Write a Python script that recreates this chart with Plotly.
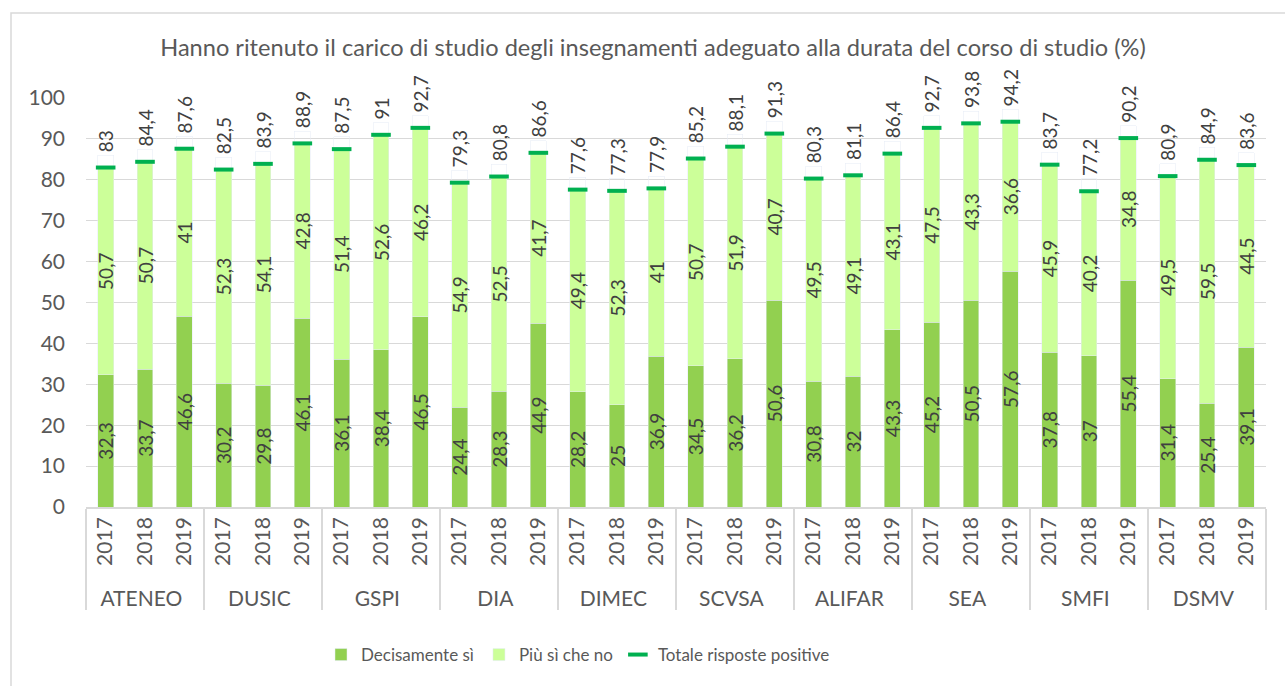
import plotly.graph_objects as go

groups = ["ATENEO", "DUSIC", "GSPI", "DIA", "DIMEC", "SCVSA", "ALIFAR", "SEA", "SMFI", "DSMV"]
years = ["2017", "2018", "2019"]

decisamente = [32.3, 33.7, 46.6, 30.2, 29.8, 46.1, 36.1, 38.4, 46.5, 24.4, 28.3, 44.9,
               28.2, 25, 36.9, 34.5, 36.2, 50.6, 30.8, 32, 43.3, 45.2, 50.5, 57.6,
               37.8, 37, 55.4, 31.4, 25.4, 39.1]
piu_si = [50.7, 50.7, 41, 52.3, 54.1, 42.8, 51.4, 52.6, 46.2, 54.9, 52.5, 41.7,
          49.4, 52.3, 41, 50.7, 51.9, 40.7, 49.5, 49.1, 43.1, 47.5, 43.3, 36.6,
          45.9, 40.2, 34.8, 49.5, 59.5, 44.5]
totale = [83, 84.4, 87.6, 82.5, 83.9, 88.9, 87.5, 91, 92.7, 79.3, 80.8, 86.6,
          77.6, 77.3, 77.9, 85.2, 88.1, 91.3, 80.3, 81.1, 86.4, 92.7, 93.8, 94.2,
          83.7, 77.2, 90.2, 80.9, 84.9, 83.6]

x_outer = [g for g in groups for _ in years]
x_inner = [y for _ in groups for y in years]
x = [x_outer, x_inner]

def fmt(v):
    return f"{v:g}".replace(".", ",")

FONT = "Lato"
TXT = "#595959"
LBL = "#404040"

fig = go.Figure()
fig.add_trace(go.Bar(
    x=x, y=decisamente, name="Decisamente sì", marker_color="#92D050",
    text=[fmt(v) for v in decisamente], textposition="inside", insidetextanchor="middle",
    textangle=-90, constraintext="none", textfont=dict(family=FONT, size=19, color=LBL),
))
fig.add_trace(go.Bar(
    x=x, y=piu_si, name="Più sì che no", marker_color="#CCFF99",
    text=[fmt(v) for v in piu_si], textposition="inside", insidetextanchor="middle",
    textangle=-90, constraintext="none", textfont=dict(family=FONT, size=19, color=LBL),
))
# invisible bars carrying the total labels above the marker
fig.add_trace(go.Bar(
    x=x, y=[3] * len(totale), base=totale, showlegend=False, hoverinfo="skip",
    marker=dict(color="rgba(0,0,0,0)"),
    text=[fmt(v) for v in totale], textposition="outside", textangle=-90,
    constraintext="none", cliponaxis=False, textfont=dict(family=FONT, size=19, color=LBL),
))
fig.add_trace(go.Scatter(
    x=x, y=totale, name="Totale risposte positive", mode="markers",
    marker=dict(symbol="line-ew", size=14, color="#00B050",
                line=dict(color="#00B050", width=4)),
    cliponaxis=False,
))

fig.update_layout(
    width=1285, height=686,
    barmode="stack", bargap=0.6,
    plot_bgcolor="white", paper_bgcolor="white",
    margin=dict(l=86, r=19, t=98, b=179, autoexpand=False),
    font=dict(family=FONT, color=TXT, size=18),
    title=dict(text="Hanno ritenuto il carico di studio degli insegnamenti adeguato alla durata del corso di studio (%)",
               x=(653 / 1285), xanchor="center", y=1 - 48 / 686, yanchor="middle",
               font=dict(family=FONT, size=23.6, color=TXT)),
    legend=dict(orientation="h", x=(578 - 86) / 1180, xanchor="center",
                y=(507 - 655) / 409, yanchor="middle",
                font=dict(family=FONT, size=17, color=TXT), traceorder="normal",
                itemwidth=30),
    showlegend=True,
)
fig.update_yaxes(range=[0, 100], dtick=10, showgrid=True, gridcolor="#D9D9D9", gridwidth=1,
                 zeroline=False, showline=False, tickfont=dict(size=21, color=TXT), ticks="",
                 ticklabelstandoff=20, automargin=False)
fig.update_xaxes(type="multicategory", range=[-0.5, 29.5], tickangle=-90, showline=True,
                 linecolor="#D9D9D9", linewidth=1.5, showdividers=True,
                 dividercolor="#D9D9D9", dividerwidth=1.5,
                 tickfont=dict(size=21, color=TXT), ticks="", automargin=False)

fig.add_shape(type="rect", xref="paper", yref="paper",
              x0=(11 - 86) / 1180, x1=(1300 - 86) / 1180,
              y0=(507 - 700) / 409, y1=(507 - 13) / 409,
              line=dict(color="#D9D9D9", width=1.5), fillcolor="rgba(0,0,0,0)", layer="below")

fig.write_html("out.html", config={"displayModeBar": False},
               post_script="document.body.style.margin='0';")
